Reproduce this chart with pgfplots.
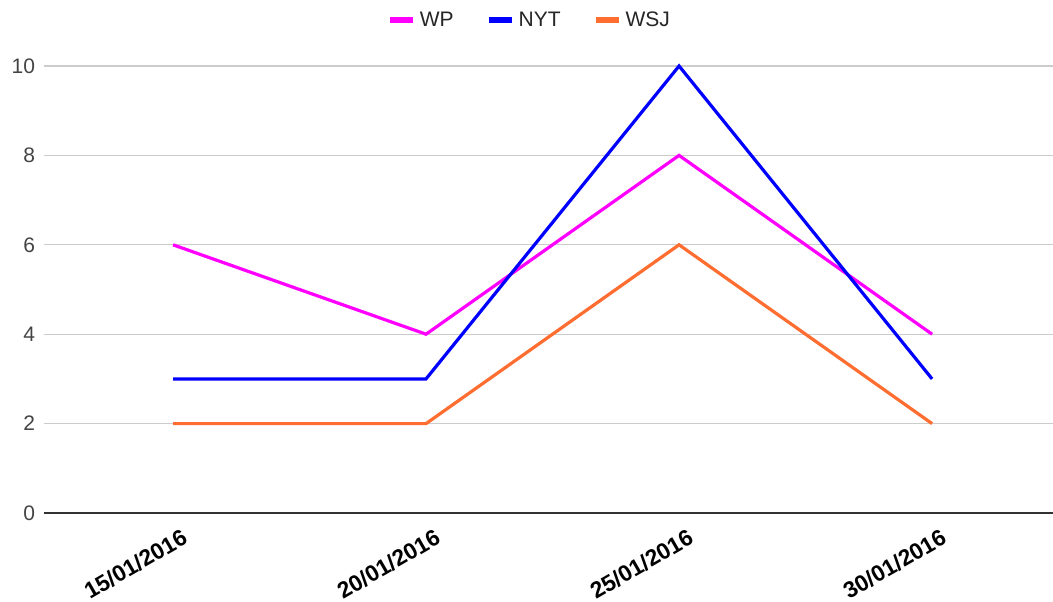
\documentclass[border=0pt]{standalone}
\usepackage{pgfplots}
\pgfplotsset{compat=1.18}
\usepackage{fontspec}
\setmainfont{Liberation Sans}
\definecolor{cwp}{HTML}{FF00FF}
\definecolor{cnyt}{HTML}{0000FF}
\definecolor{cwsj}{HTML}{FF6D31}
\definecolor{gridc}{HTML}{CCCCCC}
\definecolor{tickc}{HTML}{444444}
\begin{document}
\begin{tikzpicture}[x=1pt,y=1pt]
\path[use as bounding box] (0,0) rectangle (526.5,300.5);
\begin{axis}[
  at={(22pt,44pt)}, anchor=south west,
  scale only axis, width=504.5pt, height=223.5pt,
  xmin=-0.51, xmax=3.478, ymin=0, ymax=10,
  clip=false,
  axis line style={draw=none},
  ytick={0,2,4,6,8,10},
  xtick={0,1,2,3},
  xticklabels={15/01/2016,20/01/2016,25/01/2016,30/01/2016},
  ymajorgrids, grid style={gridc, line width=0.6pt},
  tick style={draw=none},
  yticklabel style={font=\fontsize{10.5}{12}\selectfont, text=tickc, xshift=-1pt},
  /pgf/number format/assume math mode=true,
  xticklabel style={font=\fontsize{11.4}{13}\selectfont\bfseries, rotate=30, anchor=north east, xshift=3pt, yshift=-5pt},
  legend style={at={(0.482,1.102)}, anchor=center, draw=none, legend columns=-1,
    font=\fontsize{10.5}{12}\selectfont, text=black!85,
    /tikz/every even column/.append style={column sep=14pt}},
  legend image code/.code={\draw[line width=3pt,#1] (0pt,0pt) -- (11.5pt,0pt);},
]
\draw[black!80, line width=0.8pt] (axis cs:-0.51,0) -- (axis cs:3.478,0);
\addplot[cwp, line width=1.6pt] coordinates {(0,6) (1,4) (2,8) (3,4)};
\addlegendentry{WP}
\addplot[cnyt, line width=1.6pt] coordinates {(0,3) (1,3) (2,10) (3,3)};
\addlegendentry{NYT}
\addplot[cwsj, line width=1.6pt] coordinates {(0,2) (1,2) (2,6) (3,2)};
\addlegendentry{WSJ}
\end{axis}
\end{tikzpicture}
\end{document}
